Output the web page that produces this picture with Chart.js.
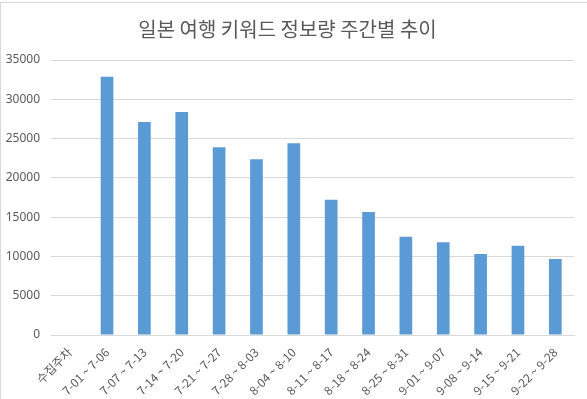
<!DOCTYPE html>
<html>
<head>
<meta charset="utf-8">
<script src="https://cdn.jsdelivr.net/npm/chart.js@4.4.0/dist/chart.umd.min.js"></script>
<style>
html,body{margin:0;padding:0;background:#fff}
#wrap{position:relative;width:587px;height:399px;box-sizing:border-box;border-top:1px solid #d9d9d9;border-left:1px solid #d9d9d9;margin-top:2px}
</style>
</head>
<body>
<div id="wrap"><canvas id="c"></canvas></div>
<script>
// weekly keyword counts
const weeks = ['수집주차','7-01 ~ 7-06','7-07 ~ 7-13','7-14 ~ 7-20','7-21 ~ 7-27','7-28 ~ 8-03','8-04 ~ 8-10','8-11 ~ 8-17','8-18 ~ 8-24','8-25 ~ 8-31','9-01 ~ 9-07','9-08 ~ 9-14','9-15 ~ 9-21','9-22 ~ 9-28'];
const counts = [null,32880,27100,28380,23900,22360,24410,17200,15660,12500,11820,10320,11350,9680];
const titleText = '일본 여행 키워드 정보량 주간별 추이';

const grey = '#595959';
new Chart(document.getElementById('c'),{
  type:'bar',
  data:{labels:weeks,datasets:[{data:counts,backgroundColor:'#5b9bd5',barPercentage:0.34,categoryPercentage:1}]},
  options:{
    responsive:true,maintainAspectRatio:false,animation:false,
    layout:{padding:{left:0,right:13,top:0,bottom:0}},
    plugins:{
      legend:{display:false},tooltip:{enabled:false},
      title:{display:true,text:titleText,color:grey,font:{family:'"Noto Sans CJK KR"',size:20,weight:'normal'},padding:{top:14,bottom:19}}
    },
    scales:{
      x:{
        grid:{display:false},border:{color:'#d9d9d9'},
        ticks:{color:grey,font:{family:'"Noto Sans CJK KR"',size:12},maxRotation:45,minRotation:45,autoSkip:false,padding:2},
        afterFit(s){s.height=66}
      },
      y:{
        min:0,max:35000,
        grid:{color:'#d9d9d9',drawTicks:false},border:{display:false},
        ticks:{stepSize:5000,color:grey,font:{family:'"Noto Sans"',size:12},padding:11,callback:v=>String(v)},
        afterFit(s){s.width=50}
      }
    }
  }
});
</script>
</body>
</html>
